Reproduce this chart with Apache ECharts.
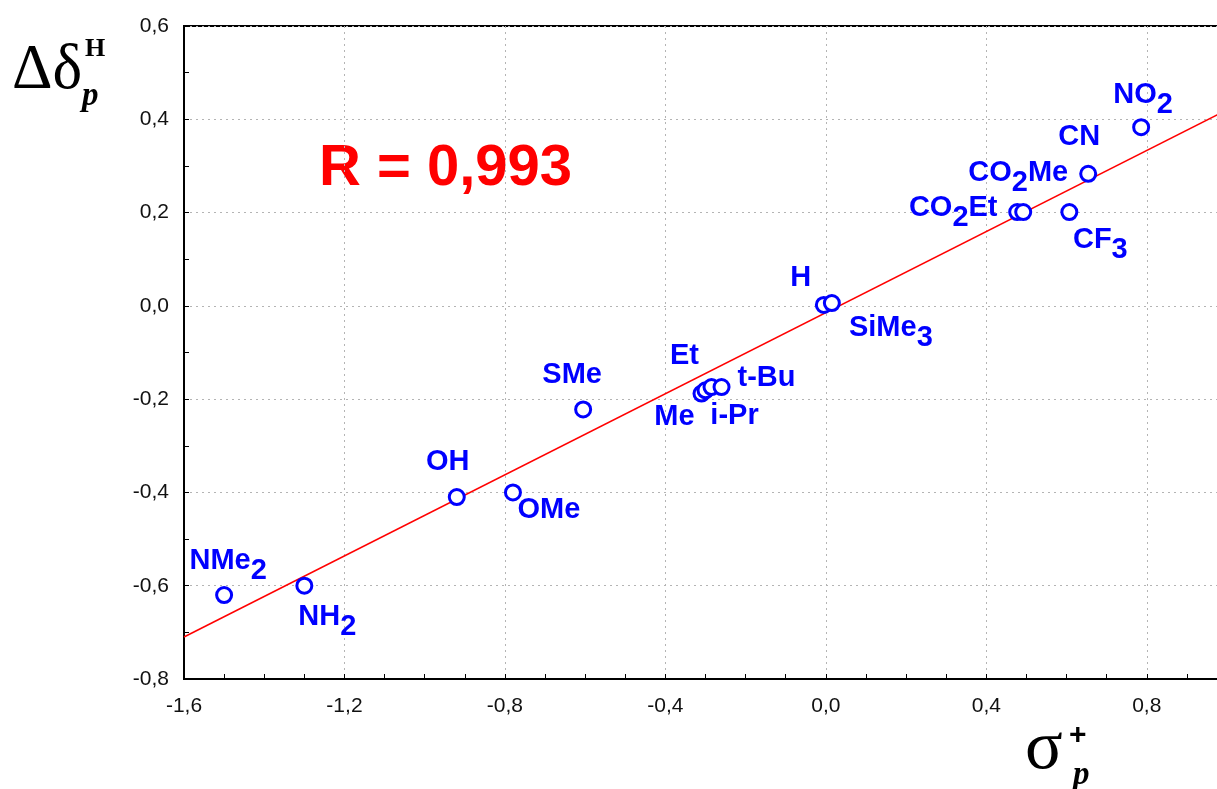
<!DOCTYPE html>
<html>
<head>
<meta charset="utf-8">
<script src="https://cdn.jsdelivr.net/npm/echarts@6/dist/echarts.min.js"></script>
<style>
    html, body { margin: 0; padding: 0; background: #fff; overflow: hidden; }
    /* plot runs a little past the right edge of the window, as in the original */
    #chart { width: 1227px; height: 789px; }
</style>
</head>
<body>
<div id="chart"></div>
<script>
// substituents, sigma_p+ (x) and delta-delta_p H (y)
const substituents = ['NMe2', 'NH2', 'OH', 'OMe', 'SMe', 'Me', 'Et', 'i-Pr', 't-Bu', 'H', 'SiMe3', 'CO2Et', 'CO2Me', 'CF3', 'CN', 'NO2'];
const sigmaP = [-1.50, -1.30, -0.92, -0.78, -0.605, -0.31, -0.30, -0.285, -0.26, -0.005, 0.015, 0.477, 0.492, 0.607, 0.654, 0.786];
const deltaH = [-0.62, -0.60, -0.41, -0.40, -0.222, -0.188, -0.181, -0.174, -0.174, 0.002, 0.006, 0.201, 0.201, 0.201, 0.283, 0.383];

// regression line end points
const fitX = [-1.6, 1.0];
const fitY = [-0.71, 0.42];

const rText = 'R = 0,993';

// label offsets (px) from marker centre
const labelOffset = {
    'NMe2': [4, -29], 'NH2': [23, 36], 'OH': [-9, -30], 'OMe': [36, 23],
    'SMe': [-11, -29], 'Me': [-27, 28], 'Et': [-21, -29], 'i-Pr': [23, 34],
    't-Bu': [45, -4], 'H': [-23, -22], 'SiMe3': [59, 30], 'CO2Et': [-64, 1],
    'CO2Me': [-5, -34], 'CF3': [31, 33], 'CN': [-9, -32], 'NO2': [2, -27]
};

const blue = '#0000ff';
const labelFont = {
    fontFamily: 'Liberation Sans, Arial, sans-serif', fontSize: 29, fontWeight: 'bold',
    color: blue, textBorderWidth: 0
};
const comma = v => v.toFixed(1).replace('.', ',');

const chart = echarts.init(document.getElementById('chart'));

const points = substituents.map((name, i) => ({
    name: name,
    value: [sigmaP[i], deltaH[i]],
    label: { offset: labelOffset[name] }
}));

chart.setOption({
    animation: false,
    backgroundColor: '#fff',
    grid: {
        left: 184,
        right: 0,
        top: 26,
        bottom: 110,
        show: true,
        borderColor: '#000',
        borderWidth: 2
    },
    xAxis: {
        type: 'value',
        min: -1.6,
        max: 1.0,
        interval: 0.4,
        axisLine: { show: true, onZero: false, lineStyle: { color: '#000', width: 2 } },
        axisTick: { inside: true, length: 5, lineStyle: { color: '#000' } },
        minorTick: { show: true, splitNumber: 4, length: 5, lineStyle: { color: '#000' } },
        splitLine: { show: true, lineStyle: { color: '#b4b4b4', type: [2, 4] } },
        axisLabel: {
            formatter: comma, fontSize: 21, color: '#111', margin: 17,
            fontFamily: 'Liberation Sans, Arial, sans-serif', showMaxLabel: false
        }
    },
    yAxis: {
        type: 'value',
        min: -0.8,
        max: 0.6,
        interval: 0.2,
        axisLine: { show: true, onZero: false, lineStyle: { color: '#000', width: 2 } },
        axisTick: { inside: true, length: 5, lineStyle: { color: '#000' } },
        minorTick: { show: true, splitNumber: 2, length: 5, lineStyle: { color: '#000' } },
        splitLine: { show: true, lineStyle: { color: '#b4b4b4', type: [2, 4] } },
        axisLabel: {
            formatter: comma, fontSize: 21, color: '#111', margin: 15,
            fontFamily: 'Liberation Sans, Arial, sans-serif'
        }
    },
    series: [
        {
            type: 'line',
            data: fitX.map((x, i) => [x, fitY[i]]),
            symbol: 'none',
            lineStyle: { color: '#ff0000', width: 1.5 },
            z: 2
        },
        {
            type: 'scatter',
            data: points,
            symbol: 'circle',
            symbolSize: 15,
            itemStyle: { color: '#fff', borderColor: blue, borderWidth: 3, opacity: 1 },
            label: {
                show: true,
                position: 'inside',
                align: 'center',
                verticalAlign: 'middle',
                textBorderWidth: 0,
                formatter: p => p.name
                    .replace(/([A-Za-z\-]+)/g, '{n|$1}')
                    .replace(/(\d)/g, '{s|$1}'),
                rich: {
                    n: Object.assign({ padding: [0, 0, 10, 0] }, labelFont),
                    s: Object.assign({ padding: [10, 0, 0, 0] }, labelFont)
                }
            },
            z: 3
        }
    ],
    graphic: [
        {
            type: 'text', left: 319, top: 140,
            style: { text: rText, font: 'bold 58px "Liberation Sans", Arial, sans-serif', fill: '#ff0000' }
        },
        {
            type: 'text', x: 12, y: 71,
            style: { text: 'Δδ', font: '63px "Liberation Serif", "Times New Roman", serif', fill: '#000', verticalAlign: 'middle' }
        },
        {
            type: 'text', x: 85, y: 49,
            style: { text: 'H', font: 'bold 26px "Liberation Serif", "Times New Roman", serif', fill: '#000', verticalAlign: 'middle' }
        },
        {
            type: 'text', x: 82, y: 96,
            style: { text: 'p', font: 'italic bold 33px "Liberation Serif", "Times New Roman", serif', fill: '#000', verticalAlign: 'middle' }
        },
        {
            type: 'text', x: 1025, y: 750,
            style: { text: 'σ', font: '70px "Liberation Serif", "Times New Roman", serif', fill: '#000', verticalAlign: 'middle' }
        },
        {
            type: 'text', x: 1069, y: 736,
            style: { text: '+', font: 'bold 30px "Liberation Sans", Arial, sans-serif', fill: '#000', verticalAlign: 'middle' }
        },
        {
            type: 'text', x: 1073, y: 775,
            style: { text: 'p', font: 'italic bold 33px "Liberation Serif", "Times New Roman", serif', fill: '#000', verticalAlign: 'middle' }
        }
    ]
});
</script>
</body>
</html>
